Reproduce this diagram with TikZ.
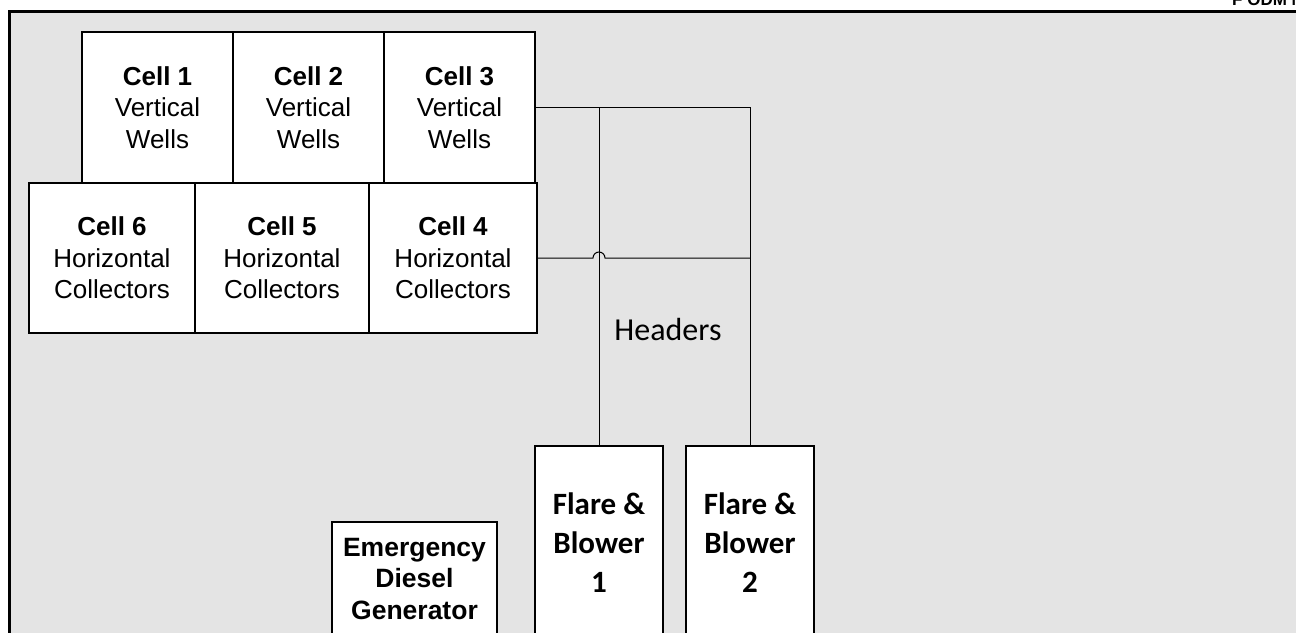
\documentclass[tikz,border=0pt]{standalone}
\usepackage{fontspec}
\setmainfont{Liberation Sans}
\newfontfamily\calfont{Carlito}
\usetikzlibrary{positioning}
\definecolor{panelgrey}{HTML}{E4E4E4}
\tikzset{
  cell/.style={rectangle, draw=black, line width=1.3pt, fill=white, outer sep=0pt,
    inner sep=0pt, minimum height=151pt, align=center, font=\fontsize{26}{31.5}\selectfont},
  unitbox/.style={cell, minimum width=128pt, minimum height=194pt,
    font=\calfont\bfseries\fontsize{31}{39}\selectfont},
  genbox/.style={cell, minimum width=165pt, minimum height=114pt,
    font=\bfseries\fontsize{26.5}{31.5}\selectfont},
  header/.style={line width=1pt, black},
}

\begin{document}
\begin{tikzpicture}[x=1pt, y=-1pt]
\useasboundingbox (0,0) rectangle (1296,632);
\clip (0,0) rectangle (1296,632);
\fill[white] (0,0) rectangle (1296,632);
% site panel
\fill[panelgrey] (8,11) rectangle (1300,640);
\draw[line width=3pt] (9,640) -- (9,11) -- (1300,11);
\node[anchor=base west, inner sep=0pt, font=\bfseries\fontsize{17}{17}\selectfont] (title) at (1232,5.5) {F ODM MR};

% cells
\node[cell, minimum width=151pt] (c1) at (157.5,107.5) {\textbf{Cell 1}\\Vertical\\Wells};
\node[cell, minimum width=151pt, right=0pt of c1] (c2) {\textbf{Cell 2}\\Vertical\\Wells};
\node[cell, minimum width=151pt, right=0pt of c2] (c3) {\textbf{Cell 3}\\Vertical\\Wells};
\node[cell, minimum width=166pt, minimum height=150pt] (c6) at (112,258) {\textbf{Cell 6}\\Horizontal\\Collectors};
\node[cell, minimum width=174pt, minimum height=150pt, right=0pt of c6] (c5) {\textbf{Cell 5}\\Horizontal\\Collectors};
\node[cell, minimum width=168pt, minimum height=150pt, right=0pt of c5] (c4) {\textbf{Cell 4}\\Horizontal\\Collectors};

% flares and generator
\node[unitbox] (flare1) at (599,543) {Flare \&\\Blower\\1};
\node[unitbox, right=23pt of flare1] (flare2) {Flare \&\\Blower\\2};
\node[genbox] (gen) at (414.5,579) {Emergency\\Diesel\\Generator};
\node[font=\calfont\fontsize{32}{36}\selectfont] (hdr) at (668,330) {Headers};

% headers
\coordinate (t1) at (flare1.north |- c3.east);
\coordinate (t2) at (flare2.north |- c3.east);
\coordinate (h1) at (flare1.north |- c4.east);
\coordinate (h2) at (flare2.north |- c4.east);
\draw[header] (c3.east) -- (t2) -- (flare2.north);
\draw[header] (t1) -- (flare1.north);
\draw[header] (c4.east) -- ([xshift=-6pt]h1) arc[start angle=180, end angle=360, radius=6] -- (h2);
\end{tikzpicture}
\end{document}
